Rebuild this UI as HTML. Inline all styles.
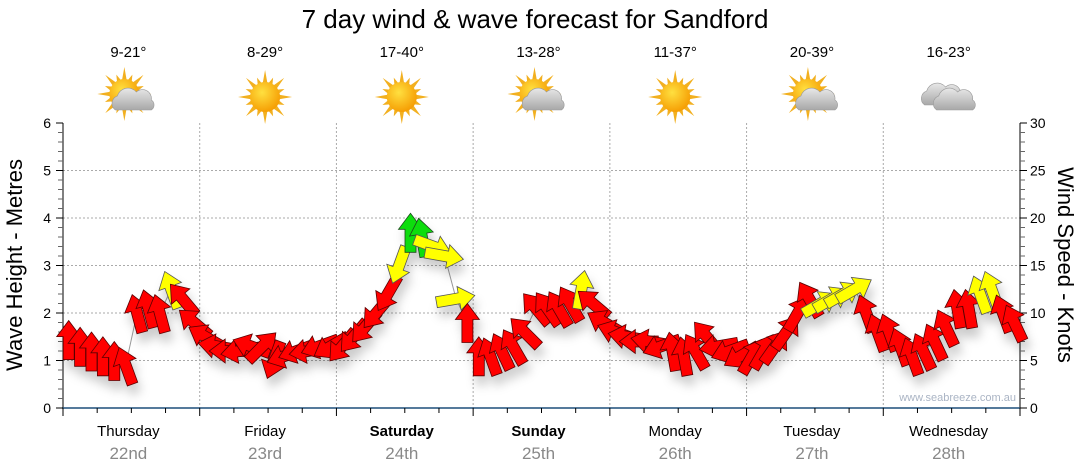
<!DOCTYPE html>
<html><head><meta charset="utf-8"><style>
html,body{margin:0;padding:0;background:#fff;}
svg{display:block;font-family:"Liberation Sans",sans-serif;}
</style></head><body>
<svg id="chart" width="1080" height="475" viewBox="0 0 1080 475" xmlns="http://www.w3.org/2000/svg">
<defs>
<filter id="sh" x="-50%" y="-50%" width="200%" height="200%"><feDropShadow dx="3" dy="9" stdDeviation="5" flood-color="#000" flood-opacity="0.2"/></filter>
<radialGradient id="sunG" cx="0.4" cy="0.35" r="0.7"><stop offset="0" stop-color="#ffe040"/><stop offset="1" stop-color="#f59a00"/></radialGradient>
<linearGradient id="cloudG" x1="0" y1="0" x2="0" y2="1"><stop offset="0" stop-color="#e8e8e8"/><stop offset="1" stop-color="#a8a8a8"/></linearGradient>
</defs>
<text x="535" y="28" text-anchor="middle" font-size="26" fill="#000">7 day wind &amp; wave forecast for Sandford</text>
<text transform="translate(22,265) rotate(-90)" text-anchor="middle" font-size="22" fill="#000">Wave Height - Metres</text>
<text transform="translate(1058,265) rotate(90)" text-anchor="middle" font-size="22" fill="#000">Wind Speed - Knots</text>
<text x="1016" y="401" text-anchor="end" font-size="11" fill="#aab4c4">www.seabreeze.com.au</text>
<g id="grid"></g><g id="axes"></g><g id="wx"></g>
<polyline id="conn" fill="none" stroke="#999" stroke-width="1"/>
<g id="arrows" filter="url(#sh)"></g>
</svg>
<script>
const days=["Thursday","Friday","Saturday","Sunday","Monday","Tuesday","Wednesday"];
const dates=["22nd","23rd","24th","25th","26th","27th","28th"];
const temps=["9-21°","8-29°","17-40°","13-28°","11-37°","20-39°","16-23°"];
const wxTypes=["partly","sun","sun","partly","sun","partly","cloud"];
const waveTicks=[0,1,2,3,4,5,6];
const windTicks=[0,5,10,15,20,25,30];
// 2-hourly wind speed (knots)
const windSpeed=[7.2,6.5,6,5.5,5,4.5,10,10.5,10,12.5,11.5,9,
7.5,6.5,6,6,6.5,6.5,5,5.5,6,6,6.5,6.5,
6.5,7.5,8.5,10,12,15,18.5,18,17,16,11.5,9,
5.5,5.5,6,6.5,8,10.5,10.5,10.5,11,12.5,11,9,
8,7.5,7,7,6.5,6,5.5,6,7.5,6.5,6,5.5,
5.5,6,6.5,8,10,11.5,11,11.5,12,12.5,10,8,
8,6.5,5.5,6,7,8.5,10.5,10.5,12,12.5,10,9];
// direction arrow points (degrees, 0=up, clockwise)
const windDir=[0,0,0,0,0,-20,-15,-15,-15,-20,-40,-50,
-60,-80,-90,-100,-70,45,200,-110,-110,-100,-110,-120,
220,220,220,220,210,200,0,-10,110,100,80,0,
0,-20,-25,-30,-45,-40,-35,-30,-30,10,-50,-60,
-70,-80,-90,-80,-110,-10,-10,-30,-40,-100,-110,-120,
30,30,35,35,30,-30,60,60,60,60,-20,-20,
-20,-20,-20,-25,-25,-25,-10,-10,-20,-20,-20,-25];
const windCol=["r","r","r","r","r","r","r","r","r","y","r","r",
"r","r","r","r","r","r","r","r","r","r","r","r",
"r","r","r","r","r","y","g","g","y","y","y","r",
"r","r","r","r","r","r","r","r","r","y","r","r",
"r","r","r","r","r","r","r","r","r","r","r","r",
"r","r","r","r","r","r","y","y","y","y","r","r",
"r","r","r","r","r","r","r","r","y","y","r","r"];

const NS="http://www.w3.org/2000/svg";
const X0=63,X1=1020,Y0=408,Y1=123,HOURS=168;
const xT=h=>X0+(X1-X0)*h/HOURS;
const yWave=m=>Y0-(Y0-Y1)*m/6;
const yWind=k=>Y0-(Y0-Y1)*k/30;
function mk(tag,attrs,parent){const e=document.createElementNS(NS,tag);for(const k in attrs)e.setAttribute(k,attrs[k]);parent.appendChild(e);return e;}
const grid=document.getElementById('grid'),axes=document.getElementById('axes'),wx=document.getElementById('wx');
waveTicks.forEach(m=>{if(m>0&&m<6){const l=mk('line',{x1:X0,x2:X1,y1:yWave(m),y2:yWave(m),stroke:'#aaa','stroke-dasharray':'2,2'},grid);

}});
for(let d=1;d<7;d++){const x=xT(d*24);const l=mk('line',{x1:x,x2:x,y1:Y1,y2:Y0,stroke:'#aaa','stroke-dasharray':'2,2'},grid);

}
let a=mk('line',{x1:X0,x2:X0,y1:Y1,y2:Y0,stroke:'#000'},axes);


a=mk('line',{x1:X1,x2:X1,y1:Y1,y2:Y0,stroke:'#000'},axes);


a=mk('line',{x1:X0-1,x2:X1,y1:Y0,y2:Y0,stroke:'#1d4f7a','stroke-width':1.5},axes);


for(let i=0;i<=30;i++){const y=yWave(i/5);mk('line',{x1:X0-(i%5==0?7:5),x2:X0,y1:y,y2:y,stroke:i%5==0?'#000':'#666'},axes);}
waveTicks.forEach(m=>{const t=mk('text',{x:51,y:yWave(m)+5,'text-anchor':'end','font-size':14,fill:'#000'},axes);t.textContent=m;

});
for(let k=0;k<=30;k++){const y=yWind(k);mk('line',{x1:X1,x2:X1+(k%5==0?7:5),y1:y,y2:y,stroke:k%5==0?'#000':'#666'},axes);}
windTicks.forEach(k=>{const t=mk('text',{x:1030,y:yWind(k)+5,'font-size':14,fill:'#000'},axes);t.textContent=k;

});
for(let h=0;h<=HOURS;h+=6){const x=xT(h);mk('line',{x1:x,x2:x,y1:Y0,y2:Y0+(h%24==0?8:5),stroke:'#000'},axes);}
days.forEach((d,i)=>{const cx=xT(i*24+12);
const t=mk('text',{x:cx-3,y:436,'text-anchor':'middle','font-size':15,fill:'#000','font-weight':(i==2||i==3)?'bold':'normal'},axes);t.textContent=d;


const t2=mk('text',{x:cx-3,y:459,'text-anchor':'middle','font-size':17,fill:'#888'},axes);t2.textContent=dates[i];


const t3=mk('text',{x:cx-3,y:57,'text-anchor':'middle','font-size':15,fill:'#000'},wx);t3.textContent=temps[i];


const g=mk('g',{transform:`translate(${cx-3},97)`},wx);


const ty=wxTypes[i];
if(ty!=='cloud'){const sx=ty==='partly'?-4:0,sy=ty==='partly'?-3:0;
let pts=[];for(let r=0;r<16;r++){const an=r*Math.PI/8,an1=an+Math.PI/16,an2=an-Math.PI/16;const R=(r%2==0)?27:21;
pts.push([sx+Math.sin(an2)*13,sy-Math.cos(an2)*13],[sx+Math.sin(an)*R,sy-Math.cos(an)*R],[sx+Math.sin(an1)*13,sy-Math.cos(an1)*13]);}
mk('polygon',{points:pts.map(p=>p.join(',')).join(' '),fill:'#f2b020'},g);
mk('circle',{cx:sx,cy:sy,r:15,fill:'url(#sunG)'},g);}
function cloud(ox,oy,s){mk('path',{d:`M${ox-18*s},${oy+10*s} a8,8 0 0 1 2,-14 a11,11 0 0 1 19,-4 a9,9 0 0 1 15,8 a6,6 0 0 1 0,10 z`,fill:'url(#cloudG)',stroke:'#999','stroke-width':0.6},g);}
if(ty==='partly'){cloud(5,3,1);}
if(ty==='cloud'){cloud(-6,-2,1);cloud(6,3,1);}
});
const arrows=document.getElementById('arrows');
const pts=[];
const cols={r:['#ff0000','#5a0000'],y:['#ffff00','#555'],g:['#11dd11','#1a4a1a']};
windSpeed.forEach((s,i)=>{const x=xT(i*2+1),y=yWind(s);pts.push(x.toFixed(1)+','+y.toFixed(1));
const c=cols[windCol[i]];
const p=mk('polygon',{points:'-5.5,20 5.5,20 5.5,-3 12,-3 0,-19 -12,-3 -5.5,-3',fill:c[0],stroke:c[1],'stroke-width':0.8,transform:`translate(${x.toFixed(1)},${y.toFixed(1)}) rotate(${windDir[i]})`},arrows);


});
document.getElementById('conn').setAttribute('points',pts.join(' '));
</script>
</body></html>
